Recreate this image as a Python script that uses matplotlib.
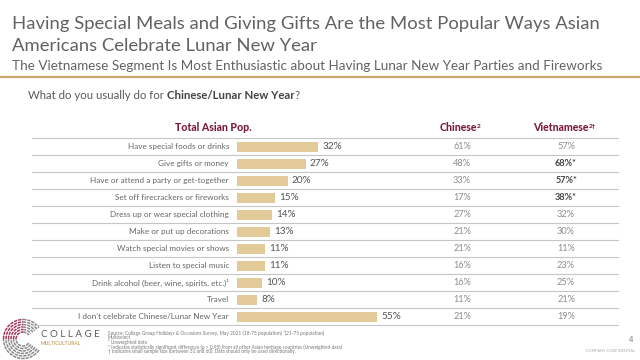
import matplotlib
matplotlib.use("Agg")
import matplotlib.pyplot as plt
from matplotlib.patches import Arc

plt.rcParams['font.family'] = ['Lato', 'DejaVu Sans']

categories = [
    "Have special foods or drinks",
    "Give gifts or money",
    "Have or attend a party or get-together",
    "Set off firecrackers or fireworks",
    "Dress up or wear special clothing",
    "Make or put up decorations",
    "Watch special movies or shows",
    "Listen to special music",
    "Drink alcohol (beer, wine, spirits, etc.)\u00b9",
    "Travel",
    "I don\u2019t celebrate Chinese/Lunar New Year",
]
total_asian = [32, 27, 20, 15, 14, 13, 11, 11, 10, 8, 55]
chinese = [61, 48, 33, 17, 27, 21, 21, 16, 16, 11, 21]
vietnamese = [57, 68, 57, 38, 32, 30, 11, 23, 25, 21, 19]
viet_sig = [False, True, True, True, False, False, False, False, False, False, False]

W, H = 640, 360
fig = plt.figure(figsize=(6.4, 3.6), dpi=100)
fig.patch.set_facecolor("white")

# pixel-coordinate overlay axes
px = fig.add_axes([0, 0, 1, 1])
px.set_xlim(0, W)
px.set_ylim(H, 0)
px.axis("off")

GRAY = "#626262"
MAROON = "#7B1E3E"
BAR = "#E2CB98"

# Titles
px.text(12, 29, "Having Special Meals and Giving Gifts Are the Most Popular Ways Asian",
        fontsize=13.3, color=GRAY, va="baseline", ha="left")
px.text(12, 51, "Americans Celebrate Lunar New Year",
        fontsize=13.3, color=GRAY, va="baseline", ha="left")
px.text(12, 70, "The Vietnamese Segment Is Most Enthusiastic about Having Lunar New Year Parties and Fireworks",
        fontsize=9.7, color=GRAY, va="baseline", ha="left")
px.plot([0, W], [77, 77], color="#C9A86A", lw=1.6, solid_capstyle="butt")

# Question with bold part
fig.canvas.draw()
r = fig.canvas.get_renderer()
qs = 8.2
t1 = px.text(28, 99, "What do you usually do for ", fontsize=qs, color="#5A5A5A",
             va="baseline", ha="left")
bb = t1.get_window_extent(renderer=r)
t2 = px.text(bb.x1, 99, "Chinese/Lunar New Year", fontsize=qs, color="#444444",
             fontweight="bold", va="baseline", ha="left")
bb2 = t2.get_window_extent(renderer=r)
px.text(bb2.x1, 99, "?", fontsize=qs, color="#5A5A5A", va="baseline", ha="left")

# Table geometry
top, row_h = 138.3, 17.0
n = len(categories)
for i in range(n + 1):
    y = top + i * row_h
    px.plot([32, 618], [y, y], color="#C6C6C6", lw=0.8)

# Headers
hy = 131
px.text(213, hy, "Total Asian Pop.", fontsize=7.6, fontweight="black", color=MAROON,
        ha="center", va="baseline")
px.text(458, hy, "Chinese", fontsize=7.6, fontweight="black", color=MAROON,
        ha="center", va="baseline")
hc = px.texts[-1].get_window_extent(renderer=r)
px.text(hc.x1 + 0.5, hy - 3, "2", fontsize=4.6, fontweight="black", color=MAROON,
        ha="left", va="baseline")
px.text(561, hy, "Vietnamese", fontsize=7.6, fontweight="black", color=MAROON,
        ha="center", va="baseline")
hv = px.texts[-1].get_window_extent(renderer=r)
px.text(hv.x1 + 0.5, hy - 3, "2\u2020", fontsize=4.6, fontweight="black", color=MAROON,
        ha="left", va="baseline")

for i, (cat, c, v, s) in enumerate(zip(categories, chinese, vietnamese, viet_sig)):
    yc = top + (i + 0.5) * row_h
    px.text(229, yc, cat, fontsize=5.85, color="#666666", ha="right", va="center")
    px.text(462, yc, f"{c}%", fontsize=6.6, color="#8C8C8C", ha="center", va="center")
    if s:
        px.text(566, yc, f"{v}%*", fontsize=6.6, color="#444444", fontweight="bold",
                ha="center", va="center")
    else:
        px.text(566, yc, f"{v}%", fontsize=6.6, color="#8C8C8C", ha="center", va="center")

# Bars axes (percent scale)
bx0 = 236.5
px_per_pct = 2.56
xmax = 100
bax = fig.add_axes([bx0 / W, (H - (top + n * row_h)) / H,
                    xmax * px_per_pct / W, n * row_h / H])
bax.set_xlim(0, xmax)
bax.set_ylim(n - 0.5, -0.5)
bax.axis("off")
bax.patch.set_alpha(0)
ys = list(range(n))
bax.barh(ys, total_asian, height=0.62, color=BAR, edgecolor="none")
for yv, val in zip(ys, total_asian):
    bax.text(val + 1.6, yv, f"{val}%", fontsize=7.2, color="#555555",
             ha="left", va="center")

# Logo
cx, cy = 23, 339
for k, rad in enumerate([7, 9.5, 12, 14.5, 17, 19.5]):
    px.add_patch(Arc((cx, cy), 2 * rad, 2 * rad, theta1=35, theta2=180,
                     color="#8A8A8A", lw=1.1, linestyle=(0, (2.2, 0.6))))
    px.add_patch(Arc((cx, cy), 2 * rad, 2 * rad, theta1=270, theta2=325,
                     color="#8A8A8A", lw=1.1, linestyle=(0, (2.2, 0.6))))
    px.add_patch(Arc((cx, cy), 2 * rad, 2 * rad, theta1=180, theta2=270,
                     color="#A33A5A", lw=1.1, linestyle=(0, (2.2, 0.6))))
px.text(41, 337, "C O L L A G E", fontsize=7.0, color="#5A5A5A", ha="left", va="baseline")
px.text(41, 345, "MULTICULTURAL", fontsize=3.6, color="#C9A86A", ha="left",
        va="baseline", fontweight="bold")

# Footnotes
notes = [
    "Source: Collage Group Holidays & Occasions Survey, May 2021 (18-75 population) \u00b9(21-75 population)",
    "Multiselect",
    "\u00b2 Unweighted data",
    "* Indicates statistically significant difference (p > 0.95) from all other Asian heritage countries (Unweighted data)",
    "\u2020 Indicates small sample size (between 31 and 60). Data should only be used directionally.",
]
for j, note in enumerate(notes):
    px.text(108, 333 + j * 4.6, note, fontsize=3.4, color="#777777", ha="left",
            va="center")

px.text(631, 340, "4", fontsize=5.5, color="#777777", ha="center", va="center")
px.text(635, 351, "COMPANY CONFIDENTIAL", fontsize=2.8, color="#AAAAAA",
        ha="right", va="center")

fig.savefig("out.png", dpi=100, facecolor="white")
